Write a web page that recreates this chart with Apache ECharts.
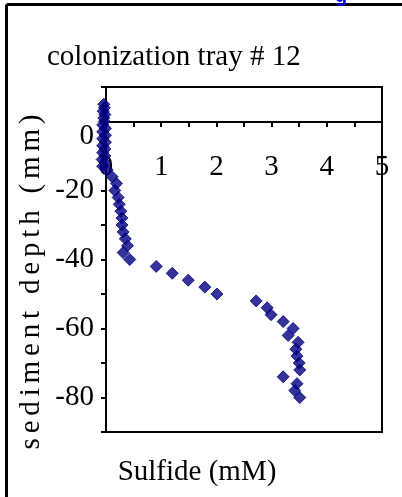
<!DOCTYPE html>
<html>
<head>
<meta charset="utf-8">
<script src="https://cdn.jsdelivr.net/npm/echarts@6/dist/echarts.min.js"></script>
<style>
html,body{margin:0;padding:0;background:#fff;}
#c{width:402px;height:497px;}
</style>
</head>
<body>
<div id="c"></div>
<script>
// Data
const depthMM = [5, 4, 3, 2, 1, 0, -1, -2, -3, -4, -5, -6, -7, -8, -9, -10, -11, -12, -13, -14,
  -16, -18, -20, -22, -24, -26, -28, -30, -32, -34, -36, -38, -40,
  -42, -44, -46, -48, -50, -52, -54, -56, -58, -60, -62, -64, -66, -68, -70, -72, -74, -76, -78, -80];
const sulfideMM = [-0.04, -0.03, -0.05, -0.02, -0.04, -0.03, -0.06, -0.01, -0.06, -0.01, -0.06, -0.01, -0.06, -0.02, -0.06, -0.02, -0.07, -0.02, -0.06, 0.02,
  0.11, 0.19, 0.16, 0.22, 0.24, 0.27, 0.29, 0.29, 0.31, 0.35, 0.39, 0.31, 0.43,
  0.91, 1.20, 1.49, 1.79, 2.01, 2.72, 2.92, 2.99, 3.21, 3.39, 3.30, 3.48, 3.44, 3.46, 3.50, 3.51, 3.21, 3.46, 3.42, 3.51];
const xTicks = [0, 1, 2, 3, 4, 5];
const yLabels = [0, -20, -40, -60, -80];
const titleText = 'colonization tray # 12';
const xName = 'Sulfide (mM)';
const yName = 'sediment depth (mm)';

const points = depthMM.map((d, i) => [sulfideMM[i], d]);
const FONT = 'Liberation Serif';
const spaced = yName.split('').join('\u2006');

const chart = echarts.init(document.getElementById('c'), null, {renderer: 'canvas'});
chart.setOption({
  animation: false,
  backgroundColor: '#fff',
  grid: {left: 106, right: 20, top: 87, bottom: 65, show: true, borderColor: '#000', borderWidth: 2, backgroundColor: 'transparent'},
  xAxis: {
    type: 'value', min: xTicks[0], max: xTicks[xTicks.length - 1], interval: 1,
    position: 'top', offset: -35,
    axisLine: {show: true, onZero: false, lineStyle: {color: '#000', width: 2}},
    axisTick: {show: true, inside: true, length: 5, lineStyle: {color: '#000', width: 2}},
    minorTick: {show: true, splitNumber: 2, length: 5, lineStyle: {color: '#000', width: 2}},
    splitLine: {show: false},
    axisLabel: {inside: true, color: '#000', fontFamily: FONT, fontSize: 29, margin: 31}
  },
  yAxis: {
    type: 'value', min: -90, max: 10, interval: 10,
    axisLine: {show: true, onZero: false, lineStyle: {color: '#000', width: 2}},
    axisTick: {show: true, inside: false, length: 5, lineStyle: {color: '#000', width: 2}},
    splitLine: {show: false},
    axisLabel: {
      color: '#000', fontFamily: FONT, fontSize: 29, margin: 12,
      formatter: v => yLabels.indexOf(v) < 0 ? '' : (v === 0 ? '{z|0}' : String(v)),
      rich: {z: {fontFamily: FONT, fontSize: 29, color: '#000', padding: [30, 0, 0, 0]}}
    }
  },
  series: [{
    type: 'scatter', data: points, symbol: 'diamond', symbolSize: 12, clip: false,
    itemStyle: {color: '#000080', borderColor: '#000080', borderWidth: 1}
  }],
  graphic: [
    {type: 'line', shape: {x1: 6.5, y1: 4.5, x2: 402, y2: 4.5}, style: {stroke: '#000', lineWidth: 3}},
    {type: 'line', shape: {x1: 6.5, y1: 4.5, x2: 6.5, y2: 497}, style: {stroke: '#000', lineWidth: 3}},
    {type: 'text', x: 335, y: 6, style: {text: 'g', fill: '#0000ff', font: 'bold 20px "Liberation Sans"', verticalAlign: 'bottom'}},
    {type: 'text', x: 47, y: 57, style: {text: titleText, fill: '#000', font: '29px "Liberation Serif"', align: 'left', verticalAlign: 'middle'}},
    {type: 'text', x: 197, y: 472, style: {text: xName, fill: '#000', font: '29px "Liberation Serif"', align: 'center', verticalAlign: 'middle'}},
    {type: 'text', x: 31, y: 282, rotation: Math.PI / 2, style: {text: spaced, fill: '#000', font: '29px "Liberation Serif"', align: 'center', verticalAlign: 'middle'}}
  ]
});
</script>
</body>
</html>
